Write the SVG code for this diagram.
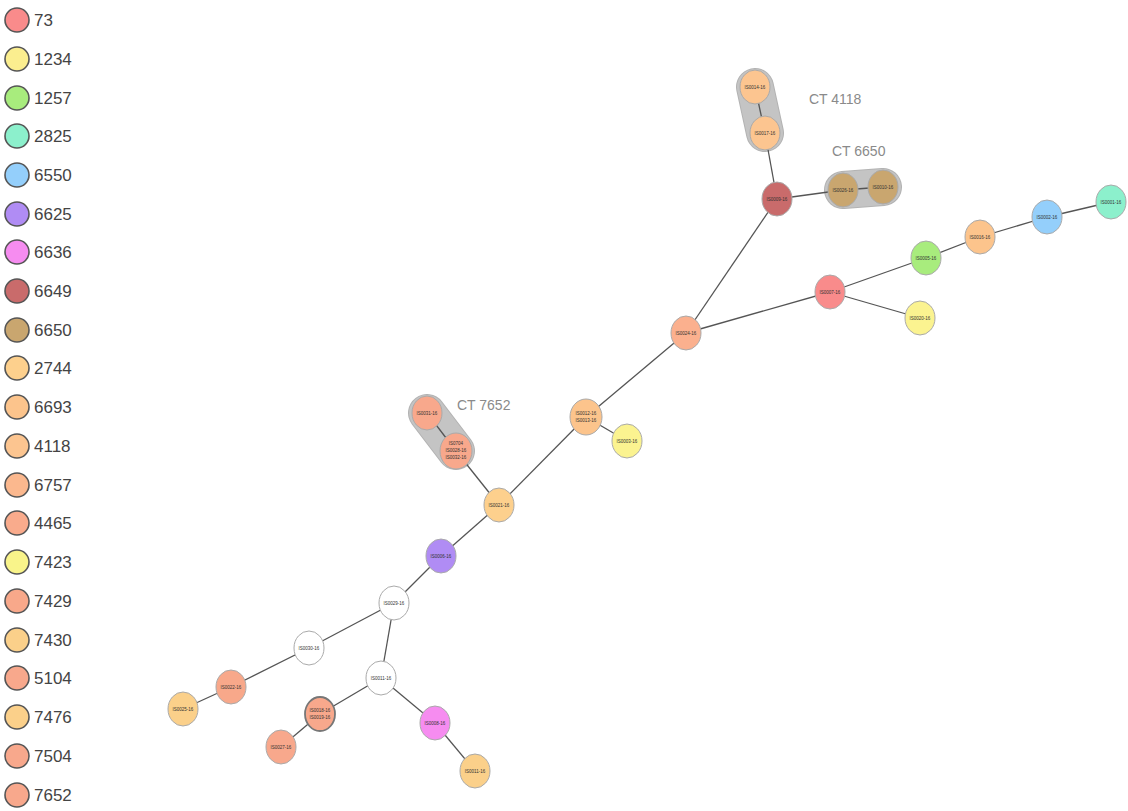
<svg xmlns="http://www.w3.org/2000/svg" width="1128" height="811" viewBox="0 0 1128 811">
<style>
.lg circle{stroke:#555;stroke-width:1.6}
.lg text{font-family:"Liberation Sans",Arial,sans-serif;font-size:17px;fill:#444}
.node ellipse{stroke:#aaa;stroke-width:1}
.node text{font-family:"Liberation Sans",Arial,sans-serif;font-size:4.5px;fill:#333;text-anchor:middle}
.edges line{stroke:#555;stroke-width:1.3}
.hull{stroke:#9a9a9a;stroke-width:38;stroke-linecap:round;opacity:0.75}
.hullin{stroke:#c4c4c4;stroke-width:36;stroke-linecap:round}
.ct{font-family:"Liberation Sans",Arial,sans-serif;font-size:14px;fill:#8a8a8a}
</style>
<rect width="1128" height="811" fill="#fff"/>
<g id="legend" class="lg">
<circle cx="17" cy="20" r="12" fill="#f98b8b"/><text x="34" y="26">73</text>
<circle cx="17" cy="59" r="12" fill="#fbee8f"/><text x="34" y="65">1234</text>
<circle cx="17" cy="98" r="12" fill="#a8ec7d"/><text x="34" y="104">1257</text>
<circle cx="17" cy="136" r="12" fill="#8cf0cc"/><text x="34" y="142">2825</text>
<circle cx="17" cy="175" r="12" fill="#94cffb"/><text x="34" y="181">6550</text>
<circle cx="17" cy="214" r="12" fill="#b08cf4"/><text x="34" y="220">6625</text>
<circle cx="17" cy="252" r="12" fill="#f68cf0"/><text x="34" y="258">6636</text>
<circle cx="17" cy="291" r="12" fill="#c96b6b"/><text x="34" y="297">6649</text>
<circle cx="17" cy="330" r="12" fill="#c9a66f"/><text x="34" y="336">6650</text>
<circle cx="17" cy="368" r="12" fill="#fdd08d"/><text x="34" y="374">2744</text>
<circle cx="17" cy="407" r="12" fill="#fcc48c"/><text x="34" y="413">6693</text>
<circle cx="17" cy="446" r="12" fill="#fcc590"/><text x="34" y="452">4118</text>
<circle cx="17" cy="485" r="12" fill="#fbb88e"/><text x="34" y="491">6757</text>
<circle cx="17" cy="523" r="12" fill="#f9ab8c"/><text x="34" y="529">4465</text>
<circle cx="17" cy="562" r="12" fill="#f9f48a"/><text x="34" y="568">7423</text>
<circle cx="17" cy="601" r="12" fill="#f8a88a"/><text x="34" y="607">7429</text>
<circle cx="17" cy="640" r="12" fill="#fbd08a"/><text x="34" y="646">7430</text>
<circle cx="17" cy="678" r="12" fill="#f8a88c"/><text x="34" y="684">5104</text>
<circle cx="17" cy="717" r="12" fill="#fbd08a"/><text x="34" y="723">7476</text>
<circle cx="17" cy="756" r="12" fill="#f8a88c"/><text x="34" y="762">7504</text>
<circle cx="17" cy="795" r="12" fill="#f8a88c"/><text x="34" y="801">7652</text>
</g>
<g id="hulls">
<line class="hull" x1="755" y1="87" x2="765" y2="133"/><line class="hullin" x1="755" y1="87" x2="765" y2="133"/>
<line class="hull" x1="843" y1="190" x2="883" y2="187"/><line class="hullin" x1="843" y1="190" x2="883" y2="187"/>
<line class="hull" x1="427" y1="413" x2="456" y2="451"/><line class="hullin" x1="427" y1="413" x2="456" y2="451"/>
<text class="ct" x="809" y="104">CT 4118</text>
<text class="ct" x="832" y="156">CT 6650</text>
<text class="ct" x="457" y="410">CT 7652</text>
</g>
<g id="connectors" class="edges">
<line x1="755" y1="87" x2="765" y2="133"/>
<line x1="765" y1="133" x2="777" y2="199"/>
<line x1="777" y1="199" x2="843" y2="190"/>
<line x1="843" y1="190" x2="883" y2="187"/>
<line x1="777" y1="199" x2="686" y2="333"/>
<line x1="686" y1="333" x2="830" y2="292"/>
<line x1="830" y1="292" x2="926" y2="258"/>
<line x1="926" y1="258" x2="980" y2="237"/>
<line x1="980" y1="237" x2="1047" y2="217"/>
<line x1="1047" y1="217" x2="1111" y2="202"/>
<line x1="830" y1="292" x2="920" y2="318"/>
<line x1="686" y1="333" x2="586" y2="417"/>
<line x1="586" y1="417" x2="627" y2="441"/>
<line x1="586" y1="417" x2="499" y2="505"/>
<line x1="499" y1="505" x2="456" y2="451"/>
<line x1="456" y1="451" x2="427" y2="413"/>
<line x1="499" y1="505" x2="441" y2="556"/>
<line x1="441" y1="556" x2="394" y2="603"/>
<line x1="394" y1="603" x2="309" y2="648"/>
<line x1="309" y1="648" x2="231" y2="687"/>
<line x1="231" y1="687" x2="183" y2="709"/>
<line x1="394" y1="603" x2="381" y2="678"/>
<line x1="381" y1="678" x2="320" y2="714"/>
<line x1="320" y1="714" x2="281" y2="747"/>
<line x1="381" y1="678" x2="435" y2="723"/>
<line x1="435" y1="723" x2="475" y2="771"/>
</g>
<g id="n14" class="node"><ellipse cx="755" cy="87" rx="15" ry="17" fill="#fcc590"/><text x="755" y="89">IS0014-16</text></g>
<g id="n17" class="node"><ellipse cx="765" cy="133" rx="15" ry="17" fill="#fcc590"/><text x="765" y="135">IS0017-16</text></g>
<g id="n09" class="node"><ellipse cx="777" cy="199" rx="15" ry="17" fill="#c96b6b"/><text x="777" y="201">IS0009-16</text></g>
<g id="n26" class="node"><ellipse cx="843" cy="190" rx="15" ry="17" fill="#c9a66f"/><text x="843" y="192">IS0026-16</text></g>
<g id="n10" class="node"><ellipse cx="883" cy="187" rx="15" ry="17" fill="#c9a66f"/><text x="883" y="189">IS0010-16</text></g>
<g id="n24" class="node"><ellipse cx="686" cy="333" rx="15" ry="17" fill="#fbb08e"/><text x="686" y="335">IS0024-16</text></g>
<g id="n07" class="node"><ellipse cx="830" cy="292" rx="15" ry="17" fill="#f98b8b"/><text x="830" y="294">IS0007-16</text></g>
<g id="n05" class="node"><ellipse cx="926" cy="258" rx="15" ry="17" fill="#a8ec7d"/><text x="926" y="260">IS0005-16</text></g>
<g id="n16" class="node"><ellipse cx="980" cy="237" rx="15" ry="17" fill="#fcc48c"/><text x="980" y="239">IS0016-16</text></g>
<g id="n02" class="node"><ellipse cx="1047" cy="217" rx="15" ry="17" fill="#94cffb"/><text x="1047" y="219">IS0002-16</text></g>
<g id="n01" class="node"><ellipse cx="1111" cy="202" rx="15" ry="17" fill="#8cf0cc"/><text x="1111" y="204">IS0001-16</text></g>
<g id="n20" class="node"><ellipse cx="920" cy="318" rx="15" ry="17" fill="#fbf390"/><text x="920" y="320">IS0020-16</text></g>
<g id="n12" class="node"><ellipse cx="586" cy="417" rx="16" ry="18" fill="#fcc48c"/><text x="586" y="415">IS0012-16</text><text x="586" y="422">IS0013-16</text></g>
<g id="n03" class="node"><ellipse cx="627" cy="441" rx="15" ry="17" fill="#fbf390"/><text x="627" y="443">IS0003-16</text></g>
<g id="n21" class="node"><ellipse cx="499" cy="505" rx="15" ry="17" fill="#fdd08d"/><text x="499" y="507">IS0021-16</text></g>
<g id="n31" class="node"><ellipse cx="427" cy="413" rx="15" ry="17" fill="#f8a88c"/><text x="427" y="415">IS0031-16</text></g>
<g id="n28" class="node"><ellipse cx="456" cy="451" rx="16" ry="18" fill="#f8a88c"/><text x="456" y="445">IS0704</text><text x="456" y="452">IS0028-16</text><text x="456" y="459">IS0032-16</text></g>
<g id="n06" class="node"><ellipse cx="441" cy="556" rx="15" ry="17" fill="#b08cf4"/><text x="441" y="558">IS0006-16</text></g>
<g id="n29" class="node"><ellipse cx="394" cy="603" rx="15" ry="17" fill="#fff"/><text x="394" y="605">IS0029-16</text></g>
<g id="n30" class="node"><ellipse cx="309" cy="648" rx="15" ry="17" fill="#fff"/><text x="309" y="650">IS0030-16</text></g>
<g id="n22" class="node"><ellipse cx="231" cy="687" rx="15" ry="17" fill="#f8a88a"/><text x="231" y="689">IS0022-16</text></g>
<g id="n25" class="node"><ellipse cx="183" cy="709" rx="15" ry="17" fill="#fbd08a"/><text x="183" y="711">IS0025-16</text></g>
<g id="n11w" class="node"><ellipse cx="381" cy="678" rx="15" ry="17" fill="#fff"/><text x="381" y="680">IS0011-16</text></g>
<g id="n18" class="node"><ellipse cx="320" cy="714" rx="15" ry="17" fill="#f8a88c" style="stroke:#777;stroke-width:1.8"/><text x="320" y="712">IS0018-16</text><text x="320" y="719">IS0019-16</text></g>
<g id="n27" class="node"><ellipse cx="281" cy="747" rx="15" ry="17" fill="#f8a88c"/><text x="281" y="749">IS0027-16</text></g>
<g id="n08" class="node"><ellipse cx="435" cy="723" rx="15" ry="17" fill="#f68cf0"/><text x="435" y="725">IS0008-16</text></g>
<g id="n11" class="node"><ellipse cx="475" cy="771" rx="15" ry="17" fill="#fbd08a"/><text x="475" y="773">IS0011-16</text></g>
</svg>
